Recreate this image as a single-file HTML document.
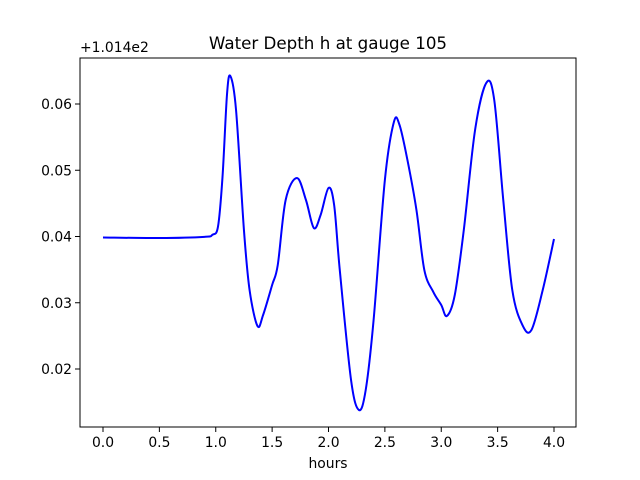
<!DOCTYPE html>
<html><head><meta charset="utf-8"><style>
body{margin:0;background:#fff;}
svg{display:block;font-family:"DejaVu Sans","Liberation Sans",sans-serif;}
</style></head><body>
<svg id="chart" width="640" height="480" xmlns="http://www.w3.org/2000/svg">
<rect width="640" height="480" fill="#fff"/>
<text x="328" y="49" text-anchor="middle" font-size="16.7">Water Depth h at gauge 105</text>
<text x="80" y="52" font-size="13.9">+1.014e2</text>
<text x="328" y="468" text-anchor="middle" font-size="13.9">hours</text>
<g id="ticks"></g>
<path id="line" fill="none" stroke="#0000ff" stroke-width="2"/>
<rect x="80" y="58" width="496" height="369" fill="none" stroke="#000" stroke-width="1"/>
</svg>
<script>
const times=[0,0.5,0.9,0.97,1.02,1.06,1.1,1.13,1.18,1.25,1.3,1.37,1.42,1.5,1.55,1.62,1.72,1.8,1.87,1.93,2.0,2.05,2.1,2.2,2.27,2.33,2.4,2.5,2.58,2.63,2.7,2.78,2.85,2.93,3.0,3.05,3.12,3.2,3.3,3.4,3.47,3.55,3.63,3.72,3.8,3.9,4.0];
const depths=[0.03985,0.03977,0.03995,0.04025,0.04150,0.04900,0.06150,0.06420,0.05909,0.04098,0.03192,0.02649,0.02815,0.03268,0.03570,0.04551,0.04883,0.04551,0.04128,0.04325,0.04732,0.04475,0.03494,0.01834,0.01381,0.01683,0.02740,0.04853,0.05728,0.05683,0.05155,0.04400,0.03494,0.03162,0.02966,0.02800,0.03117,0.04098,0.05608,0.06320,0.06060,0.04551,0.03192,0.02664,0.02589,0.03192,0.03962];
const xTicks=[0,0.5,1.0,1.5,2.0,2.5,3.0,3.5,4.0];
const yTicks=[0.02,0.03,0.04,0.05,0.06];
const X=t=>103+(t)*112.75;
const Y=v=>369-(v-0.02)*6625;
const ns="http://www.w3.org/2000/svg";
const g=document.getElementById('ticks');
xTicks.forEach(t=>{
  const l=document.createElementNS(ns,'line');
  
  
  l.setAttribute('x1',X(t));l.setAttribute('x2',X(t));l.setAttribute('y1',427);l.setAttribute('y2',432);l.setAttribute('stroke','#000');
  g.appendChild(l);
  const s=document.createElementNS(ns,'text');
  
  
  s.setAttribute('x',X(t));s.setAttribute('y',447);s.setAttribute('text-anchor','middle');s.setAttribute('font-size','13.9');
  s.textContent=t.toFixed(1);g.appendChild(s);
});
yTicks.forEach(v=>{
  const l=document.createElementNS(ns,'line');
  
  
  l.setAttribute('x1',75);l.setAttribute('x2',80);l.setAttribute('y1',Y(v));l.setAttribute('y2',Y(v));l.setAttribute('stroke','#000');
  g.appendChild(l);
  const s=document.createElementNS(ns,'text');
  
  
  s.setAttribute('x',72);s.setAttribute('y',Y(v)+5);s.setAttribute('text-anchor','end');s.setAttribute('font-size','13.9');
  s.textContent=v.toFixed(2);g.appendChild(s);
});
const P=times.map((t,i)=>[X(t),Y(depths[i])]);
let d='M'+P[0][0]+','+P[0][1];
for(let i=0;i<P.length-1;i++){
  const p0=P[Math.max(0,i-1)],p1=P[i],p2=P[i+1],p3=P[Math.min(P.length-1,i+2)];
  const c1=[p1[0]+(p2[0]-p0[0])/6,p1[1]+(p2[1]-p0[1])/6];
  const c2=[p2[0]-(p3[0]-p1[0])/6,p2[1]-(p3[1]-p1[1])/6];
  d+=' C'+c1+' '+c2+' '+p2;
}
document.getElementById('line').setAttribute('d',d);
</script>
</body></html>
